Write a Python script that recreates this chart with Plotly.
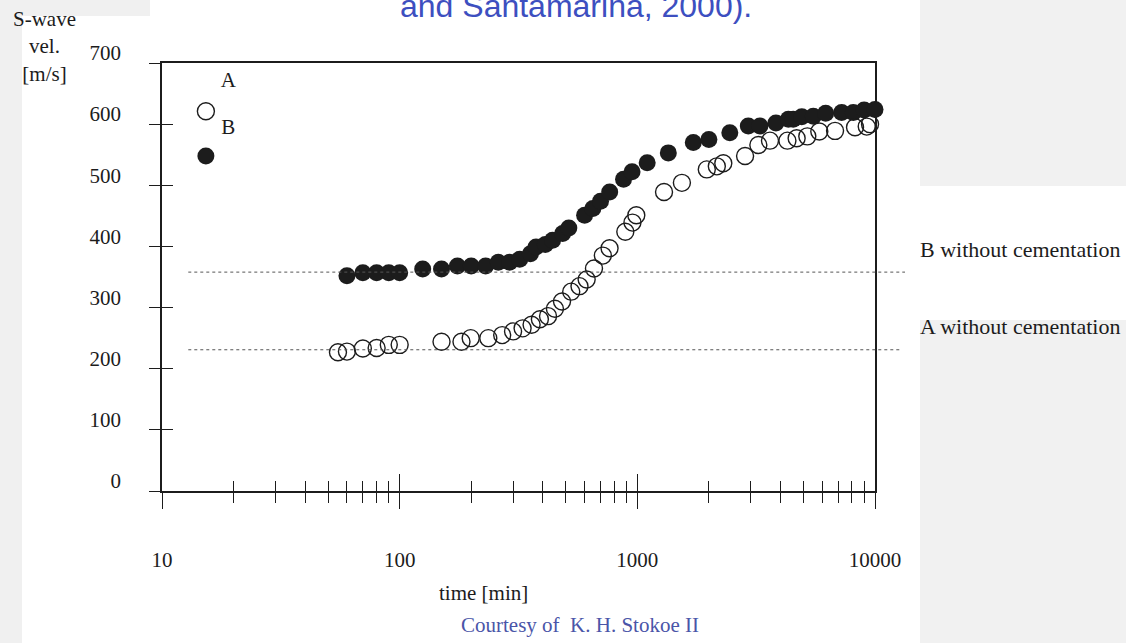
import plotly.graph_objects as go

# ---- data ----
b_time = [60, 70, 80, 90, 100, 125, 150, 175, 200, 230, 260, 290, 320, 355, 375, 410, 440,
          485, 515, 600, 650, 700, 765, 875, 950, 1100, 1350, 1720, 2000, 2450, 2930, 3280,
          3830, 4320, 4530, 4920, 5500, 6200, 7240, 8100, 9000, 10000]
b_vel = [352, 357, 357, 357, 357, 363, 363, 368, 368, 368, 374, 374, 379, 388, 399, 403, 410,
         421, 430, 451, 462, 474, 489, 510, 522, 537, 553, 570, 575, 586, 597, 597,
         602, 608, 608, 612, 613, 618, 619, 619, 623, 624]

a_time = [55, 60, 70, 80, 90, 100, 150, 182, 199, 236, 270, 300, 329, 359, 389, 421, 450,
          482, 527, 571, 612, 657, 716, 764, 890, 954, 990, 1295, 1540, 1960, 2160, 2300,
          2840, 3230, 3615, 4280, 4680, 5190, 5830, 6790, 8240, 9230, 9530]
a_vel = [227, 228, 233, 234, 239, 239, 244, 244, 250, 250, 255, 261, 266, 272, 281, 286, 298,
         310, 326, 335, 346, 364, 385, 397, 424, 439, 451, 489, 504, 526, 531, 536,
         548, 566, 573, 573, 577, 580, 588, 589, 595, 596, 600]

key_time = [15.3, 15.3]
key_vel = [621, 548]
key_label_time = [19, 19]
key_label_vel = [669, 593]
key_labels = ["A", "B"]

ref_time = [12.9, 13400]
ref_b_vel = [358, 358]
ref_a_vel = [231, 231]
ref_a_time = [12.9, 13000]

y_ticks = [0, 100, 200, 300, 400, 500, 600, 700]
x_major = [10, 100, 1000, 10000]
x_major_text = ["10", "100", "1000", "10000"]
x_minor = [20, 30, 40, 50, 60, 70, 80, 90, 200, 300, 400, 500, 600, 700, 800, 900,
           2000, 3000, 4000, 5000, 6000, 7000, 8000, 9000]

SERIF = "Liberation Serif, Times New Roman, serif"
INK = "#1c1c1c"

W, H = 1126, 643
x0, x1, x2e = 162 / W, 875 / W, 905 / W
yb, yt = 1 - 491 / H, 1 - 63 / H

fig = go.Figure()

# reference (no cementation) lines on a wider hidden subplot
fig.add_trace(go.Scatter(x=ref_time, y=ref_b_vel, mode="lines", xaxis="x2", yaxis="y",
                         line=dict(color="#555", width=1, dash="dot"), showlegend=False, hoverinfo="skip"))
fig.add_trace(go.Scatter(x=ref_a_time, y=ref_a_vel, mode="lines", xaxis="x2", yaxis="y",
                         line=dict(color="#555", width=1, dash="dot"), showlegend=False, hoverinfo="skip"))

fig.add_trace(go.Scatter(x=b_time, y=b_vel, mode="markers", cliponaxis=False,
                         marker=dict(symbol="circle", size=17, color=INK, line=dict(width=0)),
                         showlegend=False))
fig.add_trace(go.Scatter(x=a_time, y=a_vel, mode="markers", cliponaxis=False,
                         marker=dict(symbol="circle-open", size=17, color=INK, line=dict(width=1.4, color=INK)),
                         showlegend=False))

# key markers + labels (on overlay axes)
fig.add_trace(go.Scatter(x=key_time[:1], y=key_vel[:1], mode="markers", xaxis="x3", yaxis="y2",
                         cliponaxis=False,
                         marker=dict(symbol="circle-open", size=17, color=INK, line=dict(width=1.4, color=INK)),
                         showlegend=False))
fig.add_trace(go.Scatter(x=key_time[1:], y=key_vel[1:], mode="markers", xaxis="x3", yaxis="y2",
                         cliponaxis=False,
                         marker=dict(symbol="circle", size=17, color=INK), showlegend=False))
fig.add_trace(go.Scatter(x=key_label_time, y=key_label_vel, mode="text", text=key_labels,
                         xaxis="x3", yaxis="y2", cliponaxis=False,
                         textfont=dict(family=SERIF, size=21, color=INK), showlegend=False))

axis_font = dict(family=SERIF, size=21, color=INK)

fig.update_layout(
    width=W, height=H,
    margin=dict(l=0, r=0, t=0, b=0, pad=0),
    paper_bgcolor="white", plot_bgcolor="rgba(0,0,0,0)",
    xaxis=dict(type="log", range=[1, 4], domain=[x0, x1], anchor="y", automargin=False,
               showline=True, linecolor=INK, linewidth=2, mirror=True,
               showgrid=False, zeroline=False,
               tickmode="array", tickvals=x_major, ticktext=x_major_text,
               ticks="outside", ticklen=16, tickwidth=1.3, tickcolor=INK,
               tickfont=axis_font, ticklabelstandoff=33,
               minor=dict(tickmode="array", tickvals=x_minor, ticks="outside", ticklen=10,
                          tickwidth=1, tickcolor=INK, showgrid=False)),
    xaxis3=dict(type="log", range=[1, 4], overlaying="x", anchor="y", side="bottom", automargin=False,
                showline=False, showgrid=False, zeroline=False,
                tickmode="array", tickvals=x_major, showticklabels=False,
                ticks="inside", ticklen=17, tickwidth=1.3, tickcolor=INK,
                minor=dict(tickmode="array", tickvals=x_minor, ticks="inside", ticklen=10,
                           tickwidth=1, tickcolor=INK, showgrid=False)),
    xaxis2=dict(type="log", range=[1, 4.126], domain=[x0, x2e], anchor="y", visible=False,
                automargin=False),
    yaxis=dict(range=[0, 700], domain=[yb, yt], anchor="x", automargin=False,
               showline=True, linecolor=INK, linewidth=1.5, mirror=True,
               showgrid=False, zeroline=False,
               tickmode="array", tickvals=y_ticks,
               ticks="outside", ticklen=11, tickwidth=1.2, tickcolor=INK,
               tickfont=axis_font, ticklabelstandoff=24, ticklabelshift=-10),
    yaxis2=dict(range=[0, 700], overlaying="y", anchor="x", side="left", automargin=False,
                showline=False, showgrid=False, zeroline=False,
                tickmode="array", tickvals=y_ticks, showticklabels=False,
                ticks="inside", ticklen=11, tickwidth=1.2, tickcolor=INK),
    shapes=[
        dict(type="rect", xref="paper", yref="paper", x0=0, x1=22 / W, y0=0, y1=1,
             fillcolor="#f0f0f0", line=dict(width=0), layer="below"),
        dict(type="rect", xref="paper", yref="paper", x0=0, x1=150 / W, y0=1 - 16 / H, y1=1,
             fillcolor="#f0f0f0", line=dict(width=0), layer="below"),
        dict(type="rect", xref="paper", yref="paper", x0=920 / W, x1=1, y0=1 - 186 / H, y1=1,
             fillcolor="#f1f1f1", line=dict(width=0), layer="below"),
        dict(type="rect", xref="paper", yref="paper", x0=920 / W, x1=1, y0=0, y1=1 - 320 / H,
             fillcolor="#f1f1f1", line=dict(width=0), layer="below"),
    ],
    annotations=[
        dict(text="S-wave<br>vel.<br>[m/s]", xref="paper", yref="paper", x=44 / W, y=1 - 47 / H,
             xanchor="center", yanchor="middle", showarrow=False, font=dict(family=SERIF, size=21, color=INK)),
        dict(text="B without cementation", xref="paper", yref="paper", x=918 / W, y=1 - 249 / H,
             xanchor="left", yanchor="middle", showarrow=False, font=dict(family=SERIF, size=22, color=INK)),
        dict(text="A without cementation", xref="paper", yref="paper", x=918 / W, y=1 - 326 / H,
             xanchor="left", yanchor="middle", showarrow=False, font=dict(family=SERIF, size=22, color=INK)),
        dict(text="time [min]", xref="paper", yref="paper", x=483 / W, y=1 - 593 / H,
             xanchor="center", yanchor="middle", showarrow=False, font=dict(family=SERIF, size=21, color=INK)),
        dict(text="Courtesy of\u00a0 K. H. Stokoe II", xref="paper", yref="paper", x=580 / W, y=1 - 625 / H,
             xanchor="center", yanchor="middle", showarrow=False, font=dict(family=SERIF, size=21, color="#4a55a8")),
        dict(text="and Santamarina, 2000).", xref="paper", yref="paper", x=576 / W, y=1 - 6 / H,
             xanchor="center", yanchor="middle", showarrow=False,
             font=dict(family="Liberation Sans, Arial, sans-serif", size=32, color="#3d4fc0")),
    ],
)

fig.write_html("out.html")
